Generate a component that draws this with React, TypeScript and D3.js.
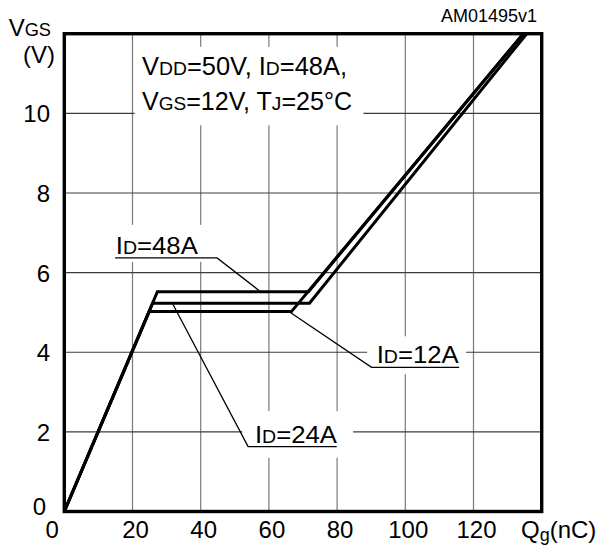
import React from 'react';
import * as d3 from 'd3';

const W = 602;
const H = 547;

// Axis ticks
const xTicks = [0, 20, 40, 60, 80, 100, 120];
const yTicks = [0, 2, 4, 6, 8, 10];

// Gate charge curves, Qg (nC) vs VGS (V)
const qg12A = [0, 24.9, 66.6, 134.6];
const vgs12A = [0, 5.02, 5.02, 12];
const qg24A = [0, 25.9, 71.9, 135.6];
const vgs24A = [0, 5.23, 5.23, 12];
const qg48A = [0, 27.3, 71.6, 134.6];
const vgs48A = [0, 5.52, 5.52, 12];

const FONT = "'Liberation Sans', Arial, Helvetica, sans-serif";

const x = d3.scaleLinear().domain([0, 140]).range([64.3, 541.7]);
const y = d3.scaleLinear().domain([0, 12]).range([511.5, 33.7]);

const line = d3
  .line<[number, number]>()
  .x((d) => x(d[0]))
  .y((d) => y(d[1]));

const zip = (a: number[], b: number[]): [number, number][] => a.map((v, i) => [v, b[i]]);

const curves = [zip(qg12A, vgs12A), zip(qg24A, vgs24A), zip(qg48A, vgs48A)];

// Label callouts: leader polyline (data units) and label anchor
const callouts = [
  { text: '48A', pts: [[57.1, 5.55], [44.8, 6.37], [14.9, 6.37]] as [number, number][], tx: 15.1, ty: 6.47 },
  { text: '24A', pts: [[31.8, 5.21], [53.9, 1.63], [79.9, 1.63]] as [number, number][], tx: 55.9, ty: 1.72 },
  { text: '12A', pts: [[66.4, 4.99], [90.1, 3.62], [115.8, 3.62]] as [number, number][], tx: 91.6, ty: 3.73 },
];

// White knock-outs behind text so grid lines break around it (x0, x1 in nC; y0, y1 in V)
const knockouts = [
  [20.6, 87.7, 9.7, 11.67],
  [13.0, 42.2, 6.27, 7.2],
  [52.2, 84.7, 1.35, 2.52],
  [88.8, 117.8, 3.45, 4.4],
];

function Sub({ children }: { children: React.ReactNode }) {
  return <tspan fontSize="0.76em">{children}</tspan>;
}

export default function App() {
  return (
    <svg
      width={W}
      height={H}
      viewBox={`0 0 ${W} ${H}`}
      style={{ position: 'absolute', left: 0, top: 0, background: '#fff' }}
      fontFamily={FONT}
    >
      <rect width={W} height={H} fill="#fff" />

      {/* grid */}
      <g>
        {xTicks
          .filter((t) => t > 0)
          .map((t) => (
            <line key={'gx' + t} x1={x(t)} x2={x(t)} y1={y(12)} y2={y(0)} stroke="#7a7a7a" strokeWidth={1.2} />
          ))}
        {yTicks
          .filter((t) => t > 0)
          .map((t) => (
            <line key={'gy' + t} x1={x(0)} x2={x(140)} y1={y(t)} y2={y(t)} stroke="#3c3c3c" strokeWidth={1.1} />
          ))}
      </g>

      {knockouts.map((k, i) => (
        <rect key={'k' + i} x={x(k[0])} y={y(k[3])} width={x(k[1]) - x(k[0])} height={y(k[2]) - y(k[3])} fill="#fff" />
      ))}

      {/* curves */}
      {curves.map((c, i) => (
        <path key={'c' + i} d={line(c) || ''} fill="none" stroke="#000" strokeWidth={3} strokeLinejoin="miter" />
      ))}

      {/* callouts */}
      {callouts.map((c) => (
        <g key={c.text}>
          <path d={line(c.pts) || ''} fill="none" stroke="#000" strokeWidth={1.3} />
          <text x={x(c.tx)} y={y(c.ty)} fontSize={24.5} fill="#000" textLength={82} lengthAdjust="spacingAndGlyphs">
            I<Sub>D</Sub>={c.text}
          </text>
        </g>
      ))}

      {/* test conditions */}
      <text x={142} y={75} fontSize={25} fill="#000" textLength={205} lengthAdjust="spacingAndGlyphs">
        V<Sub>DD</Sub>=50V, I<Sub>D</Sub>=48A,
      </text>
      <text x={142} y={110} fontSize={25} fill="#000" textLength={210} lengthAdjust="spacingAndGlyphs">
        V<Sub>GS</Sub>=12V, T<Sub>J</Sub>=25°C
      </text>

      {/* frame */}
      <rect x={x(0)} y={y(12)} width={x(140) - x(0)} height={y(0) - y(12)} fill="none" stroke="#000" strokeWidth={3.4} />

      {/* y tick labels */}
      {yTicks.map((t) => (
        <text
          key={'yl' + t}
          x={t === 0 ? 46 : 50}
          y={t === 0 ? y(t) + 3 : y(t) + 9}
          textAnchor="end"
          fontSize={24}
          fill="#000"
        >
          {t}
        </text>
      ))}

      {/* x tick labels */}
      {xTicks.map((t) => (
        <text
          key={'xl' + t}
          x={t === 0 ? x(t) - 12 : x(t) + 3}
          y={538}
          textAnchor="middle"
          fontSize={24}
          fill="#000"
        >
          {t}
        </text>
      ))}

      {/* axis titles */}
      <text x={51} y={36} textAnchor="end" fontSize={24} fill="#000">
        V<Sub>GS</Sub>
      </text>
      <text x={55} y={63} textAnchor="end" fontSize={24} fill="#000">
        (V)
      </text>
      <text x={521} y={538} fontSize={24} fill="#000">
        Q<tspan fontSize="0.75em" dy={3}>g</tspan>
        <tspan dy={-3}>(nC)</tspan>
      </text>

      <text x={537} y={22} textAnchor="end" fontSize={18} fill="#000">
        AM01495v1
      </text>
    </svg>
  );
}
